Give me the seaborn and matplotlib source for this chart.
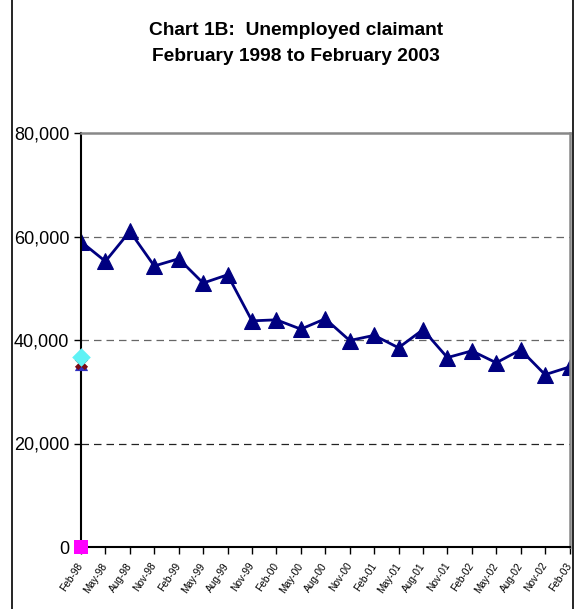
import matplotlib
matplotlib.use("Agg")
import matplotlib.pyplot as plt
from matplotlib.patches import Rectangle
import pandas as pd
import seaborn as sns

months = ["Feb-98", "May-98", "Aug-98", "Nov-98", "Feb-99", "May-99", "Aug-99",
          "Nov-99", "Feb-00", "May-00", "Aug-00", "Nov-00", "Feb-01", "May-01",
          "Aug-01", "Nov-01", "Feb-02", "May-02", "Aug-02", "Nov-02", "Feb-03"]
claimants = [59000, 55200, 61000, 54300, 55700, 51000, 52600,
             43700, 43900, 42100, 44100, 39900, 40900, 38500,
             42000, 36600, 37900, 35600, 38100, 33300, 34800]
# stray single-point series sitting at the first category
extra_vals = [35300, 35600, 36700, 0]
extra_styles = ["^", "X", "D", "s"]
extra_colors = ["#3030c0", "#7a0a14", "#5ff2f5", "#ff00ff"]

sns.set_theme(style="white")
plt.rcParams["font.family"] = ["Liberation Sans", "DejaVu Sans"]
plt.rcParams["text.color"] = "black"
plt.rcParams["xtick.color"] = "black"
plt.rcParams["ytick.color"] = "black"

fig = plt.figure(figsize=(5.75, 6.09), dpi=100)
ax = fig.add_axes([81 / 575, 1 - 547 / 609, 489 / 575, 414 / 609])

df = pd.DataFrame({"x": range(len(months)), "y": claimants})
sns.lineplot(data=df, x="x", y="y", ax=ax, color="#000080", linewidth=2.0,
             marker="^", markersize=11, markeredgecolor="#000080")

for v, m, c in zip(extra_vals, extra_styles, extra_colors):
    sns.scatterplot(x=[0], y=[v], marker=m, color=c, s=90 if m != "s" else 110,
                    edgecolor=c, linewidth=0, ax=ax, zorder=5, clip_on=False)

ax.set_xlim(0, 20.02)
ax.set_ylim(0, 80000)
ax.set_yticks([0, 20000, 40000, 60000, 80000])
ax.set_yticklabels(["0", "20,000", "40,000", "60,000", "80,000"], fontsize=13)
ax.set_xticks(range(len(months)))
ax.set_xticklabels(months, fontsize=7.3, rotation=56, ha="right", va="center",
                   rotation_mode="anchor")
ax.set_xlabel("")
ax.set_ylabel("")
ax.tick_params(axis="both", direction="out", length=5, width=1, color="black",
               bottom=True, left=True)
ax.tick_params(axis="x", pad=7)

for y, col in [(20000, "#222222"), (40000, "#666666"), (60000, "#666666")]:
    ax.axhline(y, color=col, linestyle=(0, (6, 4)), linewidth=0.9, zorder=0)

for side in ["left", "bottom"]:
    ax.spines[side].set_color("black")
    ax.spines[side].set_linewidth(1.5)
for side in ["top", "right"]:
    ax.spines[side].set_color("#888888")
    ax.spines[side].set_linewidth(1.8)

# outer chart frame
fig.patches.append(Rectangle((12 / 575, -0.01), 561 / 575, 1.1,
                             transform=fig.transFigure, fill=False,
                             edgecolor="black", linewidth=1.2))

fig.text(0.515, 0.950, "Chart 1B:  Unemployed claimant", ha="center",
         va="center", fontsize=13.8, fontweight="bold")
fig.text(0.515, 0.908, "February 1998 to February 2003", ha="center",
         va="center", fontsize=13.8, fontweight="bold")

fig.savefig("out.png", dpi=100)
